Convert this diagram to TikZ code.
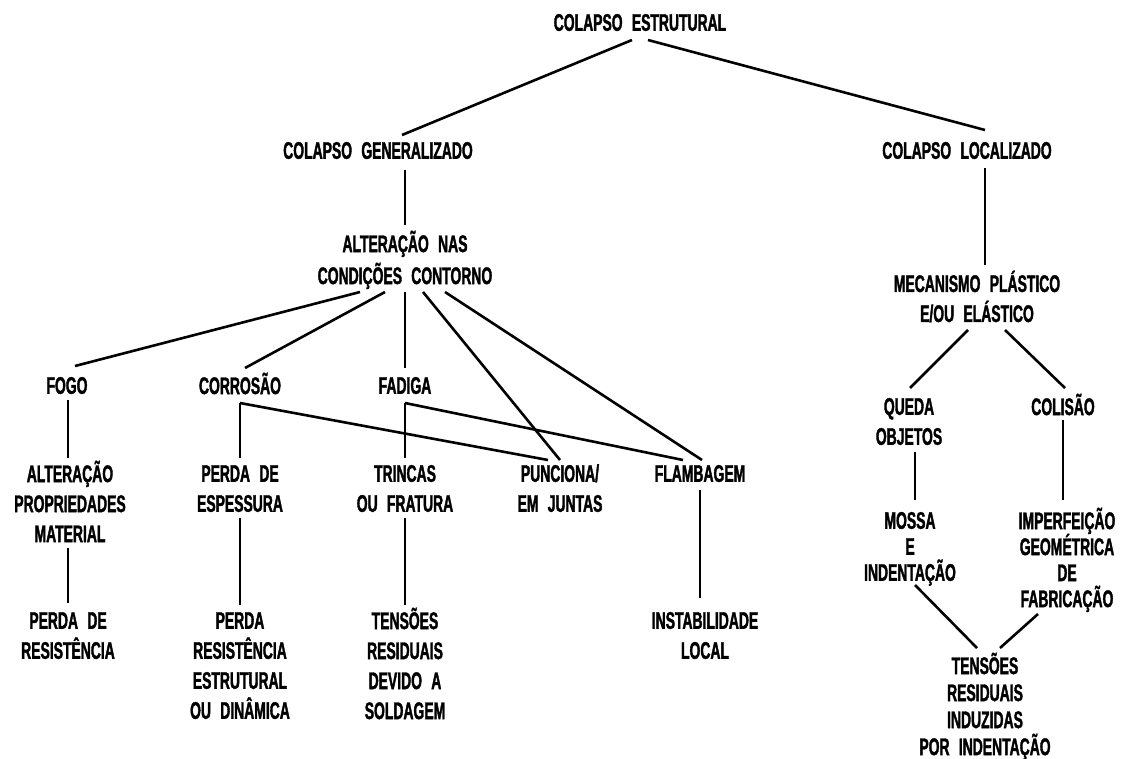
\documentclass[tikz,border=0pt]{standalone}
\usepackage{fontspec}
\usetikzlibrary{calc}
\newfontfamily\cadfont[FakeStretch=0.58,FakeBold=1.5,WordSpace=2.4]{Liberation Sans}
\newcommand\cadtext[1]{\cadfont\bfseries\fontsize{24}{#1}\selectfont\lineskiplimit=-100pt}
% strut that fixes the height of every first line
\newcommand\fl{\rule{0pt}{21.1pt}}
\begin{document}
\begin{tikzpicture}[x=1pt,y=-1pt,
  lbl/.style={font=\cadtext{30}, align=center, inner sep=0pt, anchor=north},
  tight/.style={font=\cadtext{#1}},
  link/.style={line width=2.6pt}]
\useasboundingbox (0,0) rectangle (1124,758);

% ---- tree nodes (placed by top of first line) ----
\node[lbl] (est) at (640,9.5) {\fl COLAPSO ESTRUTURAL};
\node[lbl] (gen) at (378,137.5) {\fl COLAPSO GENERALIZADO};
\node[lbl] (loc) at (967,137.5) {\fl COLAPSO LOCALIZADO};
\node[lbl,tight=32] (alt) at (405,230.5) {\fl ALTERAÇÃO NAS\\CONDIÇÕES CONTORNO};
\node[lbl] (fogo) at (67,372.5) {\fl FOGO};
\node[lbl] (corr) at (240,372.5) {\fl CORROSÃO};
\node[lbl] (fad) at (405,372.5) {\fl FADIGA};
\node[lbl] (altprop) at (70,460.5) {\fl ALTERAÇÃO\\PROPRIEDADES\\MATERIAL};
\node[lbl] (perdaesp) at (240,460.5) {\fl PERDA DE\\ESPESSURA};
\node[lbl] (trincas) at (405,460.5) {\fl TRINCAS\\OU FRATURA};
\node[lbl] (punc) at (560,460.5) {\fl PUNCIONA/\\EM JUNTAS};
\node[lbl] (flamb) at (700,460.5) {\fl FLAMBAGEM};
\node[lbl] (perdares) at (68,607.5) {\fl PERDA DE\\RESISTÊNCIA};
\node[lbl] (perdaest) at (240,607.5) {\fl PERDA\\RESISTÊNCIA\\ESTRUTURAL\\OU DINÂMICA};
\node[lbl] (tens) at (405,607.5) {\fl TENSÕES\\RESIDUAIS\\DEVIDO A\\SOLDAGEM};
\node[lbl] (inst) at (705,607.5) {\fl INSTABILIDADE\\LOCAL};
\node[lbl] (mec) at (977,270.5) {\fl MECANISMO PLÁSTICO\\E/OU ELÁSTICO};
\node[lbl] (queda) at (909,393.5) {\fl QUEDA\\OBJETOS};
\node[lbl] (colisao) at (1063,393.5) {\fl COLISÃO};
\node[lbl,tight=26] (mossa) at (910,507.5) {\fl MOSSA\\E\\INDENTAÇÃO};
\node[lbl,tight=26] (imperf) at (1067,507.5) {\fl IMPERFEIÇÃO\\GEOMÉTRICA\\DE\\FABRICAÇÃO};
\node[lbl,tight=27] (tensind) at (985,652.5) {\fl TENSÕES\\RESIDUAIS\\INDUZIDAS\\POR INDENTAÇÃO};

% ---- connectors ----
\draw[link] ($(est.north)+(-8,30.5)$) -- ($(gen.north)+(24,-2.5)$);
\draw[link] ($(est.north)+(8,30.5)$) -- ($(loc.north)+(18,-7.5)$);
\draw[link] ($(gen.north)+(27,32.5)$) -- ($(alt.north)+(0,-5.5)$);
\draw[link] ($(alt.north)+(-45,61.5)$) -- ($(fogo.north)+(8,-6.5)$);
\draw[link] ($(alt.north)+(-20,61.5)$) -- ($(corr.north)+(5,-4.5)$);
\draw[link] ($(alt.north)+(0,61.5)$) -- ($(fad.north)+(0,-4.5)$);
\draw[link] ($(alt.north)+(18,61.5)$) -- ($(punc.north)+(0,-0.5)$);
\draw[link] ($(alt.north)+(40,61.5)$) -- ($(flamb.north)+(2,-0.5)$);
\draw[link] ($(fogo.north)+(1,27.5)$) -- ($(altprop.north)+(-2,-2.5)$);
\draw[link] ($(corr.north)+(0,30.5)$) -- ($(perdaesp.north)+(0,-2.5)$);
\draw[link] ($(corr.north)+(0,30.5)$) -- ($(punc.north)+(-12,-0.5)$);
\draw[link] ($(fad.north)+(0,30.5)$) -- ($(trincas.north)+(0,-2.5)$);
\draw[link] ($(fad.north)+(0,30.5)$) -- ($(flamb.north)+(-17,-0.5)$);
\draw[link] ($(altprop.north)+(-2,87.5)$) -- ($(perdares.north)+(0,-4.5)$);
\draw[link] ($(perdaesp.north)+(0,57.5)$) -- ($(perdaest.north)+(0,-2.5)$);
\draw[link] ($(trincas.north)+(0,57.5)$) -- ($(tens.north)+(0,-2.5)$);
\draw[link] ($(flamb.north)+(0,29.5)$) -- ($(inst.north)+(-5,-9.5)$);
\draw[link] ($(loc.north)+(18,30.5)$) -- ($(mec.north)+(8,-5.5)$);
\draw[link] ($(mec.north)+(-9,59.5)$) -- ($(queda.north)+(1,-5.5)$);
\draw[link] ($(mec.north)+(28,59.5)$) -- ($(colisao.north)+(2,-5.5)$);
\draw[link] ($(queda.north)+(6,58.5)$) -- ($(mossa.north)+(5,-7.5)$);
\draw[link] ($(colisao.north)+(0,26.5)$) -- ($(imperf.north)+(-4,-7.5)$);
\draw[link] ($(mossa.north)+(5,77.5)$) -- ($(tensind.north)+(-8,-4.5)$);
\draw[link] ($(imperf.north)+(-29,106.5)$) -- ($(tensind.north)+(15,-4.5)$);
\end{tikzpicture}
\end{document}
